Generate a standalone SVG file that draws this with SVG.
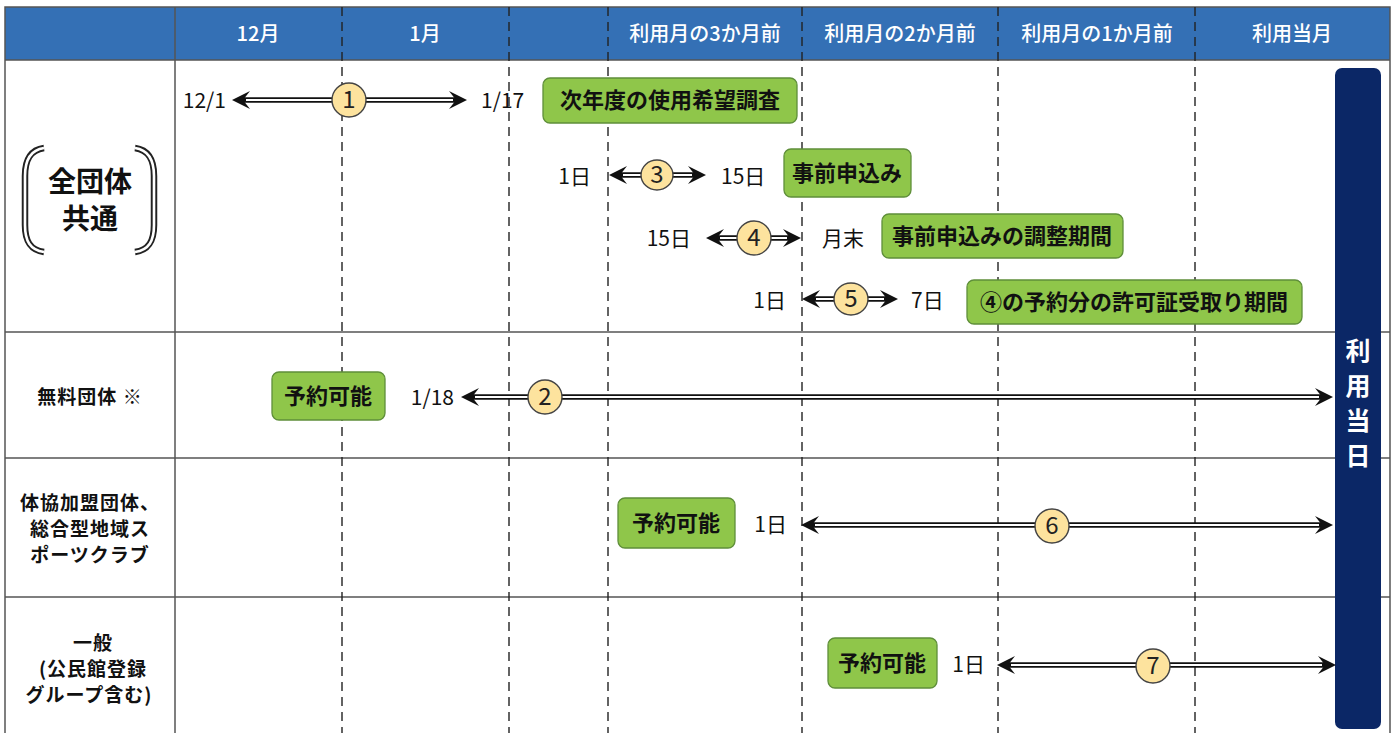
<svg xmlns="http://www.w3.org/2000/svg" xmlns:xlink="http://www.w3.org/1999/xlink" width="1397" height="733" viewBox="0 0 1397 733">
<style>
text{font-family:'Noto Sans CJK JP','Noto Sans',sans-serif;fill:#111}
.hd{fill:#fff;font-size:20px;font-weight:500;text-anchor:middle}
.grid{stroke:#555;stroke-width:1.5;fill:none}
.dash{stroke:#222;stroke-width:1.4;stroke-dasharray:9,6;fill:none}
.box{fill:#8fc64a;stroke:#5f8f3a;stroke-width:1.3}
.bt{font-size:22px;font-weight:bold;text-anchor:middle}
.dt{font-size:21px}
.lb{font-size:19px;font-weight:bold;text-anchor:middle;letter-spacing:1px}
.ab{stroke:#111;stroke-width:5.5;fill:none}
.aw{stroke:#fff;stroke-width:2;fill:none}
.ah{fill:#111}
.cir{fill:#fde39e;stroke:#444;stroke-width:1.4}
.cn{font-size:24px;text-anchor:middle;fill:#222}
.brk{fill:none;stroke:#222;stroke-width:6.5}
.brw{fill:none;stroke:#fff;stroke-width:2.6}
</style>
<defs>
<path id="ah" class="ah" d="M0,0 L-18,-9 L-11,0 L-18,9 Z"/>
</defs>
<rect width="1397" height="733" fill="#fff"/>
<g id="table">
<rect x="5" y="7" width="1385" height="53" fill="#3470b5"/>
<rect class="grid" x="5" y="7" width="1385" height="730"/>
<line class="grid" x1="5" y1="60" x2="1390" y2="60"/>
<line class="grid" x1="5" y1="332" x2="1390" y2="332"/>
<line class="grid" x1="5" y1="458" x2="1390" y2="458"/>
<line class="grid" x1="5" y1="597" x2="1390" y2="597"/>
<line class="grid" x1="175" y1="7" x2="175" y2="733"/>
<line class="dash" x1="342" y1="7" x2="342" y2="733"/>
<line class="dash" x1="509" y1="7" x2="509" y2="733"/>
<line class="dash" x1="608" y1="7" x2="608" y2="733"/>
<line class="dash" x1="802" y1="7" x2="802" y2="733"/>
<line class="dash" x1="998" y1="7" x2="998" y2="733"/>
<line class="dash" x1="1195" y1="7" x2="1195" y2="733"/>
<text class="hd" x="258" y="41">12月</text>
<text class="hd" x="425" y="41">1月</text>
<text class="hd" x="705" y="41">利用月の3か月前</text>
<text class="hd" x="900" y="41">利用月の2か月前</text>
<text class="hd" x="1097" y="41">利用月の1か月前</text>
<text class="hd" x="1292" y="41">利用当月</text>
</g>
<g id="label-all">
<path class="brk" d="M44,148 C30,150 25,160 25,176 L25,225 C25,241 30,250 44,252"/>
<path class="brw" d="M44,148 C30,150 25,160 25,176 L25,225 C25,241 30,250 44,252"/>
<path class="brk" d="M135,148 C149,150 154,160 154,176 L154,225 C154,241 149,250 135,252"/>
<path class="brw" d="M135,148 C149,150 154,160 154,176 L154,225 C154,241 149,250 135,252"/>
<text x="90" y="192" font-size="28" font-weight="bold" text-anchor="middle">全団体</text>
<text x="90" y="229" font-size="28" font-weight="bold" text-anchor="middle">共通</text>
</g>
<g id="label-free"><text class="lb" x="90" y="404">無料団体 ※</text></g>
<g id="label-club">
<text class="lb" x="90" y="510">体協加盟団体、</text>
<text class="lb" x="90" y="536">総合型地域ス</text>
<text class="lb" x="90" y="562">ポーツクラブ</text>
</g>
<g id="label-general">
<text class="lb" x="93" y="650">一般</text>
<text class="lb" x="93" y="676">(公民館登録</text>
<text class="lb" x="89" y="702">グループ含む)</text>
</g>
<g id="usage-day">
<rect x="1335" y="68" width="46" height="661" rx="7" fill="#0b2766"/>
<g font-size="25" font-weight="bold" text-anchor="middle">
<text x="1358" y="360" style="fill:#fff">利</text>
<text x="1358" y="395" style="fill:#fff">用</text>
<text x="1358" y="430" style="fill:#fff">当</text>
<text x="1358" y="465" style="fill:#fff">日</text>
</g>
</g>
<g id="boxes">
<g id="b1"><rect class="box" x="543" y="78" width="254" height="45" rx="7"/><text class="bt" x="670" y="108">次年度の使用希望調査</text></g>
<g id="b2"><rect class="box" x="784" y="149" width="127" height="48" rx="7"/><text class="bt" x="847" y="181">事前申込み</text></g>
<g id="b3"><rect class="box" x="882" y="214" width="241" height="44" rx="7"/><text class="bt" x="1002" y="244">事前申込みの調整期間</text></g>
<g id="b4"><rect class="box" x="967" y="280" width="335" height="44" rx="7"/><text class="bt" x="1134" y="310">④の予約分の許可証受取り期間</text></g>
<g id="b5"><rect class="box" x="272" y="372" width="113" height="48" rx="7"/><text class="bt" x="328" y="404">予約可能</text></g>
<g id="b6"><rect class="box" x="618" y="498" width="117" height="50" rx="7"/><text class="bt" x="676" y="531">予約可能</text></g>
<g id="b7"><rect class="box" x="828" y="638" width="109" height="50" rx="7"/><text class="bt" x="882" y="671">予約可能</text></g>
</g>
<g id="dates">
<text class="dt" x="226" y="108" text-anchor="end">12/1</text>
<text class="dt" x="481" y="108">1/17</text>
<text class="dt" x="591" y="184" text-anchor="end">1日</text>
<text class="dt" x="721" y="184">15日</text>
<text class="dt" x="691" y="246" text-anchor="end">15日</text>
<text class="dt" x="822" y="246">月末</text>
<text class="dt" x="786" y="308" text-anchor="end">1日</text>
<text class="dt" x="911" y="308">7日</text>
<text class="dt" x="454" y="405" text-anchor="end">1/18</text>
<text class="dt" x="787" y="532" text-anchor="end">1日</text>
<text class="dt" x="985" y="672" text-anchor="end">1日</text>
</g>
<g id="connectors">
<g id="a1"><line class="ab" x1="242" y1="100" x2="457" y2="100"/><line class="aw" x1="246" y1="100" x2="453" y2="100"/><use xlink:href="#ah" transform="translate(232,100) scale(-1,1)"/><use xlink:href="#ah" transform="translate(467,100)"/></g>
<g id="a3"><line class="ab" x1="619" y1="175" x2="696" y2="175"/><line class="aw" x1="623" y1="175" x2="692" y2="175"/><use xlink:href="#ah" transform="translate(609,175) scale(-1,1)"/><use xlink:href="#ah" transform="translate(706,175)"/></g>
<g id="a4"><line class="ab" x1="716" y1="238" x2="791" y2="238"/><line class="aw" x1="720" y1="238" x2="787" y2="238"/><use xlink:href="#ah" transform="translate(706,238) scale(-1,1)"/><use xlink:href="#ah" transform="translate(801,238)"/></g>
<g id="a5"><line class="ab" x1="812" y1="299" x2="888" y2="299"/><line class="aw" x1="816" y1="299" x2="884" y2="299"/><use xlink:href="#ah" transform="translate(802,299) scale(-1,1)"/><use xlink:href="#ah" transform="translate(898,299)"/></g>
<g id="a2"><line class="ab" x1="471" y1="397" x2="1323" y2="397"/><line class="aw" x1="475" y1="397" x2="1319" y2="397"/><use xlink:href="#ah" transform="translate(461,397) scale(-1,1)"/><use xlink:href="#ah" transform="translate(1333,397)"/></g>
<g id="a6"><line class="ab" x1="811" y1="525" x2="1323" y2="525"/><line class="aw" x1="815" y1="525" x2="1319" y2="525"/><use xlink:href="#ah" transform="translate(801,525) scale(-1,1)"/><use xlink:href="#ah" transform="translate(1333,525)"/></g>
<g id="a7"><line class="ab" x1="1007" y1="665" x2="1326" y2="665"/><line class="aw" x1="1011" y1="665" x2="1322" y2="665"/><use xlink:href="#ah" transform="translate(997,665) scale(-1,1)"/><use xlink:href="#ah" transform="translate(1336,665)"/></g>
</g>
<g id="markers">
<g id="c1"><ellipse class="cir" cx="349" cy="100" rx="17" ry="17"/><text class="cn" x="349" y="108">1</text></g>
<g id="c3"><ellipse class="cir" cx="657" cy="175" rx="16" ry="15"/><text class="cn" x="657" y="183">3</text></g>
<g id="c4"><ellipse class="cir" cx="754" cy="238" rx="17" ry="17"/><text class="cn" x="754" y="246">4</text></g>
<g id="c5"><ellipse class="cir" cx="851" cy="299" rx="17" ry="16"/><text class="cn" x="851" y="307">5</text></g>
<g id="c2"><ellipse class="cir" cx="545" cy="397" rx="17" ry="17"/><text class="cn" x="545" y="405">2</text></g>
<g id="c6"><ellipse class="cir" cx="1052" cy="526" rx="17" ry="17"/><text class="cn" x="1052" y="534">6</text></g>
<g id="c7"><ellipse class="cir" cx="1153" cy="666" rx="17" ry="17"/><text class="cn" x="1153" y="674">7</text></g>
</g>
</svg>
